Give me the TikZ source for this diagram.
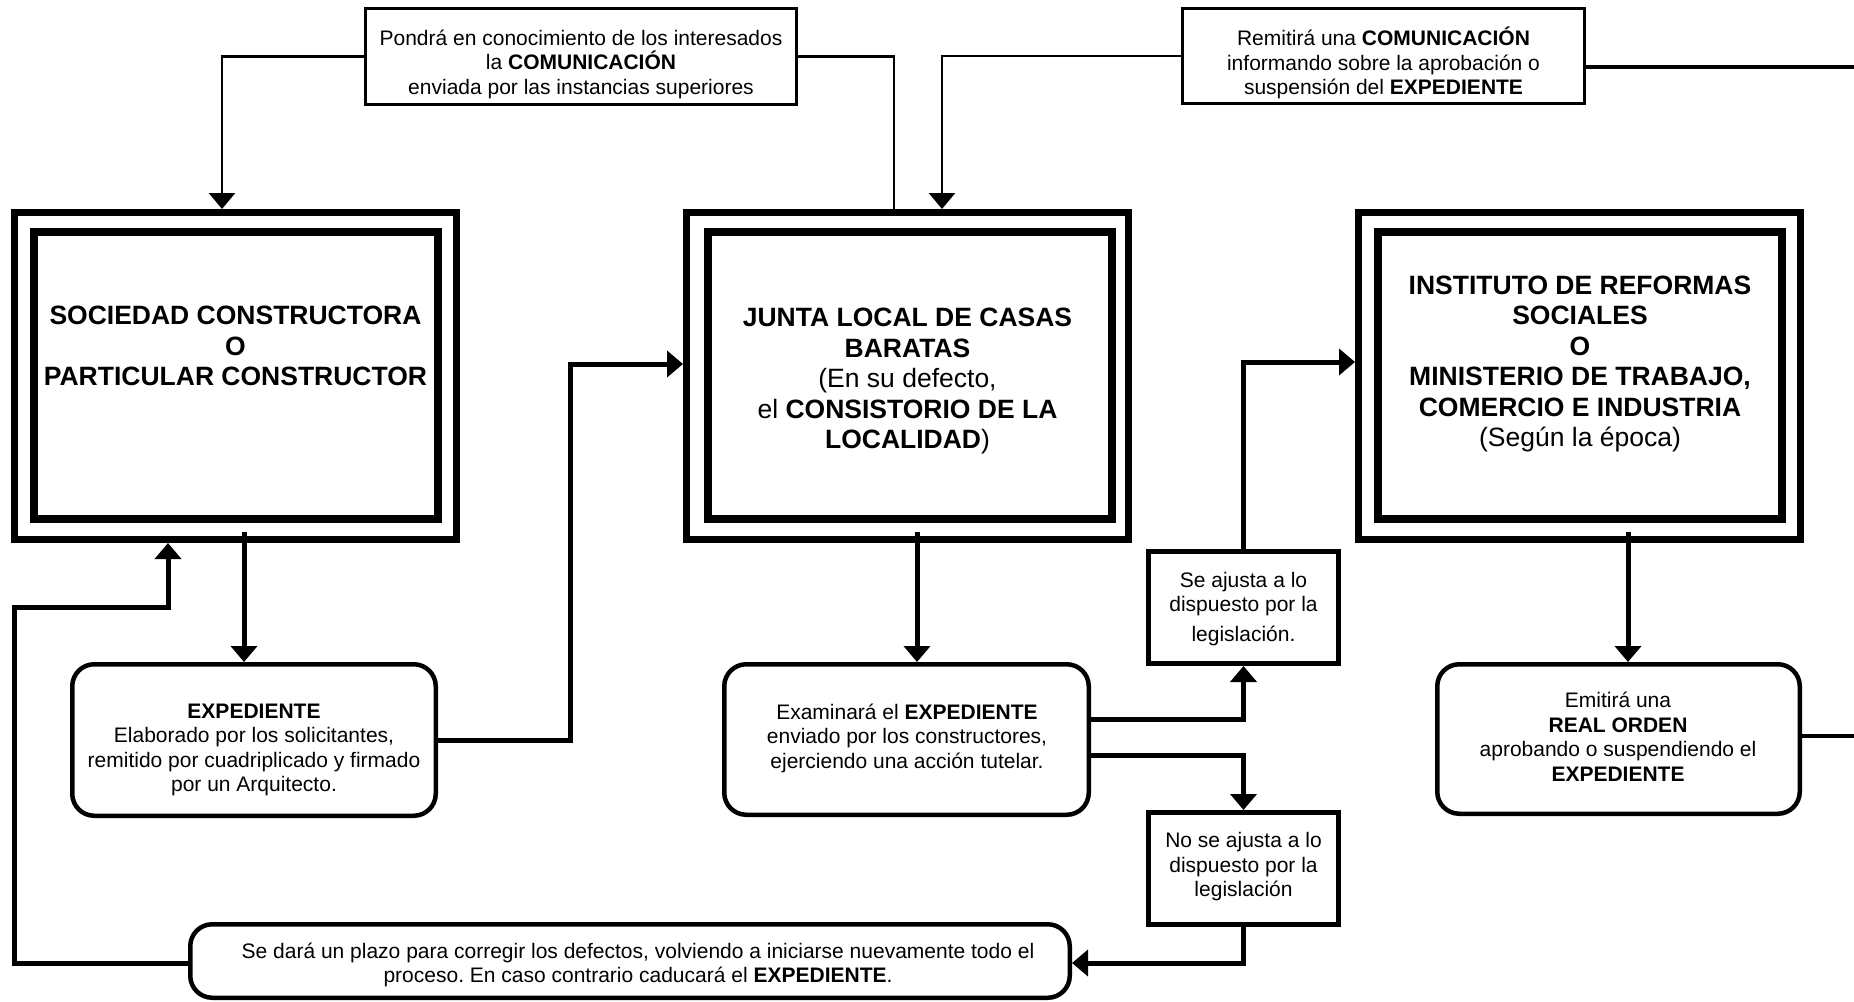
\documentclass[tikz,border=0pt]{standalone}
\usepackage{fontspec}
\setmainfont{Liberation Sans}
\usetikzlibrary{arrows.meta}
\frenchspacing
\begin{document}
\begin{tikzpicture}[x=1pt,y=-1pt,
  bigfont/.style={font=\fontsize{26.5}{30.5}\selectfont\bfseries},
  smallfont/.style={font=\fontsize{21}{24.5}\selectfont},
  outerbox/.style={draw,line width=7pt,minimum width=442pt,minimum height=327pt,inner sep=0pt},
  innerbox/.style={draw,line width=8pt,minimum width=404pt,minimum height=287pt,inner sep=0pt},
  notebox/.style={draw,line width=2.6pt,inner sep=0pt},
  roundbox/.style={draw,line width=4.5pt,rounded corners=22pt,inner sep=0pt},
  sqbox/.style={draw,line width=5pt,minimum width=190pt,minimum height=112pt,inner sep=0pt},
  txt/.style={align=center,inner sep=0pt},
  flowline/.style={line width=5pt},
  noteline/.style={line width=2.6pt},
  edgeline/.style={line width=3.2pt},
  arr/.style={-{Triangle[width=26pt,length=16pt]}}
]
\useasboundingbox (0,0) rectangle (1854,1001);
\fill[white] (0,0) rectangle (1854,1001);

% big boxes
\node[outerbox] (sc) at (235.5,376) {};
\node[innerbox] (sci) at (235.5,375.5) {};
\node[txt,bigfont] (sct) at (235.5,346) {SOCIEDAD CONSTRUCTORA\\O\\PARTICULAR CONSTRUCTOR};

\node[outerbox] (jl) at (907.5,376) {};
\node[innerbox] (jli) at (909.5,375.5) {};
\node[txt,bigfont] (jlt) at (907.5,381) {JUNTA LOCAL DE CASAS\\BARATAS\\{\mdseries (En su defecto,}\\{\mdseries el} CONSISTORIO DE LA\\LOCALIDAD{\mdseries )}};

\node[outerbox] (ir) at (1579.5,376) {};
\node[innerbox] (iri) at (1580,375.5) {};
\node[txt,bigfont] (irt) at (1580,364) {INSTITUTO DE REFORMAS\\SOCIALES\\O\\MINISTERIO DE TRABAJO,\\COMERCIO E INDUSTRIA\\{\mdseries (Según la época)}};

% top notes
\node[notebox,minimum width=431.4pt,minimum height=96.4pt] (n1) at (581,56.5) {};
\node[txt,smallfont] (n1t) at (581,64) {Pondrá en conocimiento de los interesados\\la \textbf{COMUNICACIÓN}\\enviada por las instancias superiores};

\node[notebox,minimum width=402.4pt,minimum height=95.4pt] (n2) at (1383.5,56) {};
\node[txt,smallfont] (n2t) at (1383.5,63) {Remitirá una \textbf{COMUNICACIÓN}\\informando sobre la aprobación o\\suspensión del \textbf{EXPEDIENTE}};

% rounded boxes
\node[roundbox,minimum width=363.5pt,minimum height=151.5pt] (exp) at (254,740) {};
\node[txt,smallfont] (expt) at (254,750) {\textbf{EXPEDIENTE}\\Elaborado por los solicitantes,\\remitido por cuadriplicado y firmado\\por un Arquitecto.};

\node[roundbox,minimum width=364.5pt,minimum height=150.5pt] (exam) at (906.5,739.5) {};
\node[txt,smallfont] (examt) at (907,738) {Examinará el \textbf{EXPEDIENTE}\\enviado por los constructores,\\ejerciendo una acción tutelar.};

\node[roundbox,minimum width=362.5pt,minimum height=149.5pt] (emit) at (1618.5,739) {};
\node[txt,smallfont] (emitt) at (1618,737) {Emitirá una\\\textbf{REAL ORDEN}\\aprobando o suspendiendo el\\\textbf{EXPEDIENTE}};

\node[roundbox,minimum width=879.5pt,minimum height=73.5pt] (plazo) at (630,961) {};
\node[txt,smallfont] (plazot) at (638,965) {Se dará un plazo para corregir los defectos, volviendo a iniciarse nuevamente todo el\\proceso. En caso contrario caducará el \textbf{EXPEDIENTE}.};

% decision boxes
\node[sqbox] (ajusta) at (1243.5,607.5) {};
\node[txt,smallfont] (ajustat) at (1243.5,609) {Se ajusta a lo\\dispuesto por la\\[5pt]legislación.};

\node[sqbox] (noajusta) at (1243.5,868.5) {};
\node[txt,smallfont] (noajustat) at (1243.5,867) {No se ajusta a lo\\dispuesto por la\\legislación};

% free ends at the right margin
\coordinate (edge1) at (1854,67);
\coordinate (edge2) at (1854,736);

% connectors
\draw[noteline,arr] (n1.west) -| ([xshift=-13.5pt]sc.north);
\draw[noteline] ([xshift=-13.5pt]jl.north) |- (n1.east);
\draw[noteline,arr] (n2.west) -| ([xshift=34.5pt]jl.north);
\draw[edgeline] ([yshift=-11pt]n2.east) -- (edge1);

\draw[flowline,arr] ([xshift=8.5pt,yshift=11pt]sc.south) -- ([xshift=8.5pt]sc.south |- exp.north);
\draw[flowline,arr] ([xshift=9.5pt,yshift=11pt]jl.south) -- ([xshift=9.5pt]jl.south |- exam.north);
\draw[flowline,arr] ([xshift=48.5pt,yshift=11pt]ir.south) -- ([xshift=48.5pt]ir.south |- emit.north);

\draw[flowline,arr] (exp.east) -- ++(132,0) |- ([yshift=12pt]jl.west);
\draw[flowline,arr] ([yshift=20pt]exam.east) -| (ajusta.south);
\draw[flowline,arr] ([yshift=-15.5pt]exam.east) -| (noajusta.north);
\draw[flowline,arr] (ajusta.north) |- ([yshift=14pt]ir.west);
\draw[flowline,arr] (noajusta.south) |- ([yshift=-2pt]plazo.east);
\draw[flowline,arr] ([yshift=-2pt]plazo.west) -- ++(-174,0) |- ([xshift=-67.5pt,yshift=-64pt]sc.south) -- ([xshift=-67.5pt]sc.south);
\draw[edgeline] (emit.east |- edge2) -- (edge2);
\end{tikzpicture}
\end{document}
